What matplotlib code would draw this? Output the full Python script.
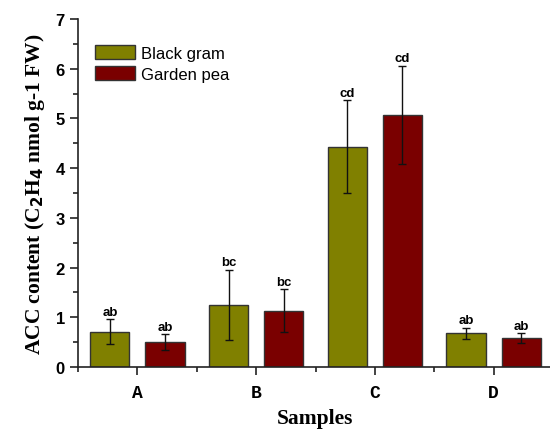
import matplotlib
matplotlib.use("Agg")
import matplotlib.pyplot as plt
import numpy as np
from matplotlib.ticker import MultipleLocator, FixedLocator

samples = ["A", "B", "C", "D"]
black_gram = [0.71, 1.25, 4.43, 0.68]
black_gram_err = [0.25, 0.71, 0.94, 0.11]
garden_pea = [0.50, 1.13, 5.07, 0.58]
garden_pea_err = [0.16, 0.43, 0.99, 0.10]
black_letters = ["ab", "bc", "cd", "ab"]
pea_letters = ["ab", "bc", "cd", "ab"]

fig = plt.figure(figsize=(5.5, 4.31), dpi=100)
ax = fig.add_axes([78/550, 63/431, 475/550, 348/431])

x = np.arange(1, len(samples) + 1)
off = 0.232
w = 0.33
ekw = dict(elinewidth=1.0, capthick=1.0, ecolor="#111111")
ax.bar(x - off, black_gram, w, color="#808000", edgecolor="#333333", linewidth=1.0,
       yerr=black_gram_err, capsize=3, error_kw=ekw, label="Black gram", zorder=2)
ax.bar(x + off, garden_pea, w, color="#7a0000", edgecolor="#333333", linewidth=1.0,
       yerr=garden_pea_err, capsize=3, error_kw=ekw, label="Garden pea", zorder=2)

for xi, v, e, t in zip(x - off, black_gram, black_gram_err, black_letters):
    ax.text(xi, v + e + 0.03, t, ha="center", va="bottom", fontsize=9.5,
            fontweight="bold", family="Liberation Sans")
for xi, v, e, t in zip(x + off, garden_pea, garden_pea_err, pea_letters):
    ax.text(xi, v + e + 0.03, t, ha="center", va="bottom", fontsize=9.5,
            fontweight="bold", family="Liberation Sans")

ax.set_xlim(0.5, 4.5)
ax.set_ylim(0, 7)
ax.spines["top"].set_visible(False)
ax.spines["right"].set_visible(False)
for s in ("left", "bottom"):
    ax.spines[s].set_linewidth(1.2)
    ax.spines[s].set_color("#222222")

ax.yaxis.set_major_locator(MultipleLocator(1))
ax.yaxis.set_minor_locator(MultipleLocator(0.5))
ax.set_xticks(x)
ax.set_xticklabels(samples)
ax.xaxis.set_minor_locator(FixedLocator([0.5, 1.5, 2.5, 3.5, 4.5]))
ax.tick_params(axis="both", which="major", direction="out", length=6, width=1.2, color="#222222")
ax.tick_params(axis="both", which="minor", direction="out", length=3.5, width=1.2, color="#222222")
ax.tick_params(axis="x", which="major", pad=6)
for lab in ax.get_yticklabels():
    lab.set_fontfamily("Liberation Sans")
    lab.set_fontweight("bold")
    lab.set_fontsize(12)
for lab in ax.get_xticklabels():
    lab.set_fontfamily("Liberation Mono")
    lab.set_fontweight("bold")
    lab.set_fontsize(13)

ax.set_ylabel(r"ACC content (C$_\mathbf{2}$H$_\mathbf{4}$ nmol g-1 FW)", fontsize=15.5,
              fontweight="bold", family="Liberation Serif", labelpad=6)
ax.set_xlabel("Samples", fontsize=15.5, fontweight="bold", family="Liberation Serif", labelpad=5)

leg = ax.legend(loc="upper left", bbox_to_anchor=(0.015, 0.955), frameon=False,
                prop={"family": "Liberation Sans", "size": 12},
                handlelength=2.4, handleheight=0.95, handletextpad=0.35, labelspacing=0.32,
                borderaxespad=0.2)

fig.savefig("out.png", dpi=100)
